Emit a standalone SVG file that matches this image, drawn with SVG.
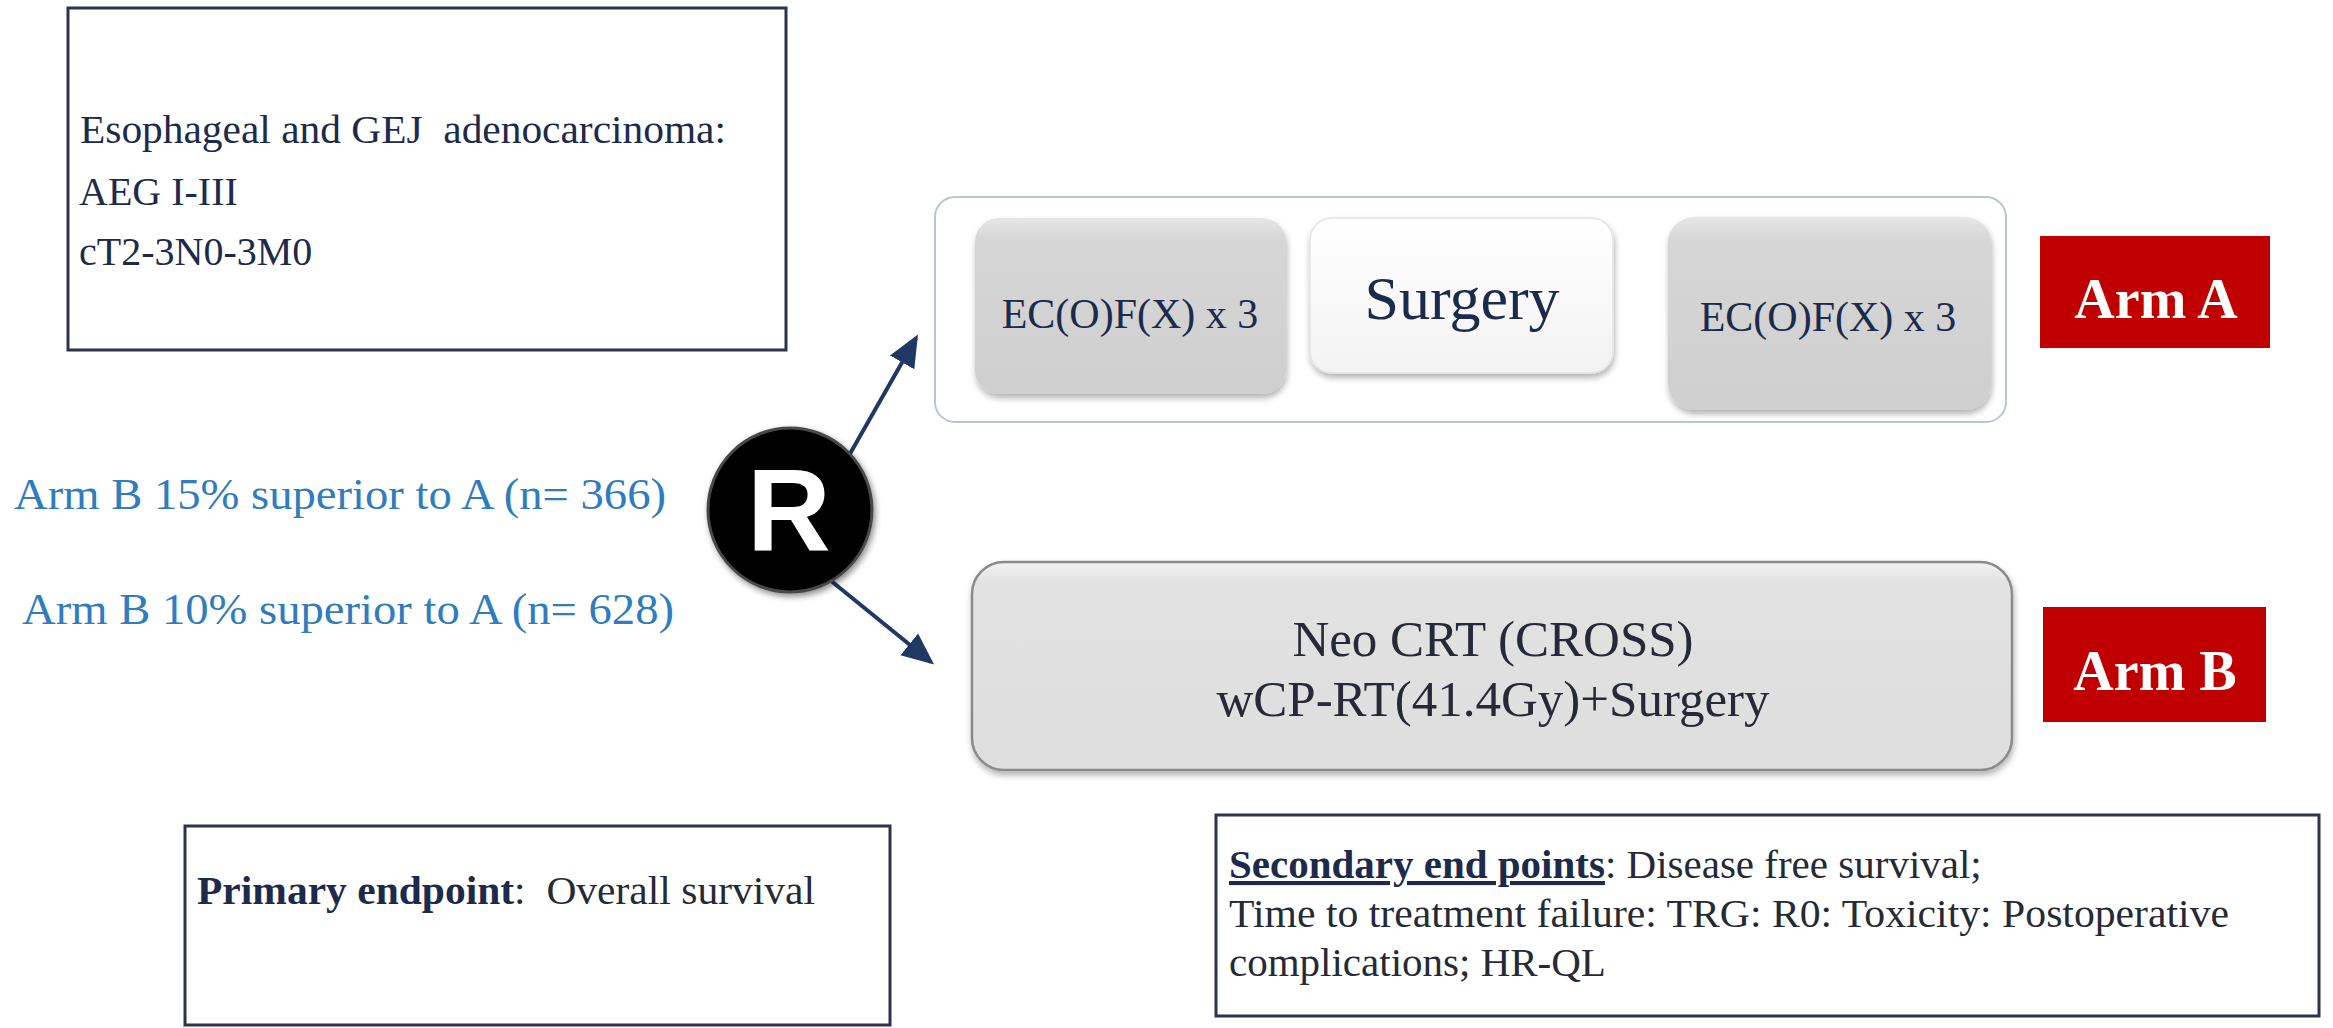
<svg xmlns="http://www.w3.org/2000/svg" width="2333" height="1028" viewBox="0 0 2333 1028">
<defs>
<style>
.serif{font-family:"Liberation Serif","Times New Roman",serif}
.frame{fill:#ffffff;stroke:#2b3350;stroke-width:3}
.navy{fill:#1c2a4c}
.dark{fill:#262a36}
.blue{fill:#2f7cbe;font-size:45px}
.red{fill:#c00000}
.armtxt{fill:#ffffff;font-size:56px;font-weight:bold;text-anchor:middle}
.conn{stroke:#1f3864;stroke-width:4;fill:none;marker-end:url(#ah)}
.pre{white-space:pre}
</style>
<marker id="ah" markerWidth="8" markerHeight="8" refX="7" refY="4" orient="auto" markerUnits="strokeWidth">
<path d="M0,0.5 L8,4 L0,7.5 Z" fill="#1f3864"/>
</marker>
<linearGradient id="gGray" x1="0" y1="0" x2="0" y2="1">
<stop offset="0" stop-color="#e6e6e6"/>
<stop offset="0.12" stop-color="#d6d6d6"/>
<stop offset="1" stop-color="#cfcfcf"/>
</linearGradient>
<linearGradient id="gWhite" x1="0" y1="0" x2="0" y2="1">
<stop offset="0" stop-color="#ffffff"/>
<stop offset="1" stop-color="#f3f3f3"/>
</linearGradient>
<linearGradient id="gB" x1="0" y1="0" x2="0" y2="1">
<stop offset="0" stop-color="#f2f2f2"/>
<stop offset="0.1" stop-color="#e2e2e2"/>
<stop offset="1" stop-color="#dedede"/>
</linearGradient>
<filter id="sh" x="-10%" y="-10%" width="120%" height="130%">
<feDropShadow dx="1" dy="4" stdDeviation="3" flood-color="#000" flood-opacity="0.3"/>
</filter>
<filter id="shc" x="-20%" y="-20%" width="140%" height="140%">
<feDropShadow dx="2" dy="3" stdDeviation="3" flood-color="#000" flood-opacity="0.45"/>
</filter>
</defs>
<rect width="2333" height="1028" fill="#ffffff"/>

<g id="population">
<rect class="frame" x="68" y="8" width="718" height="342"/>
<text class="serif navy pre" x="80" y="143" font-size="40" textLength="646" lengthAdjust="spacingAndGlyphs">Esophageal and GEJ  adenocarcinoma:</text>
<text class="serif navy" x="79" y="205" font-size="40">AEG I-III</text>
<text class="serif navy" x="79" y="265" font-size="40">cT2-3N0-3M0</text>
</g>

<g id="connectors">
<line class="conn" x1="835" y1="480" x2="916" y2="338"/>
<line class="conn" x1="830" y1="580" x2="931" y2="662"/>
</g>

<g id="arm-a-container">
<rect x="935" y="197" width="1071" height="225" rx="20" fill="#ffffff" stroke="#b7c6d6" stroke-width="2"/>
</g>
<g id="ec1">
<rect x="975" y="218" width="311" height="176" rx="24" fill="url(#gGray)" filter="url(#sh)"/>
<text class="serif navy" x="1130" y="328" font-size="42" text-anchor="middle">EC(O)F(X) x 3</text>
</g>
<g id="surgery">
<rect x="1310" y="218" width="303" height="155" rx="22" fill="url(#gWhite)" stroke="#e4e4e4" stroke-width="1.5" filter="url(#sh)"/>
<text class="serif navy" x="1462" y="319" font-size="62" text-anchor="middle">Surgery</text>
</g>
<g id="ec2">
<rect x="1668" y="217" width="323" height="193" rx="26" fill="url(#gGray)" filter="url(#sh)"/>
<text class="serif navy" x="1828" y="331" font-size="42" text-anchor="middle">EC(O)F(X) x 3</text>
</g>
<g id="arm-a-label">
<rect class="red" x="2040" y="236" width="230" height="112"/>
<text class="serif armtxt" x="2156" y="318">Arm A</text>
</g>

<g id="randomization">
<circle cx="790" cy="510" r="82" fill="#000000" stroke="#4a4a4a" stroke-width="3" filter="url(#shc)"/>
<text x="789" y="551" font-family="Liberation Sans, Arial, sans-serif" font-weight="bold" font-size="116" fill="#ffffff" text-anchor="middle">R</text>
</g>

<g id="sample-size">
<text class="serif blue" x="14" y="509" textLength="652" lengthAdjust="spacingAndGlyphs">Arm B 15% superior to A (n= 366)</text>
<text class="serif blue" x="22" y="624" textLength="652" lengthAdjust="spacingAndGlyphs">Arm B 10% superior to A (n= 628)</text>
</g>

<g id="arm-b">
<rect x="972" y="562" width="1040" height="208" rx="32" fill="url(#gB)" stroke="#8a8a8a" stroke-width="2.5" filter="url(#sh)"/>
<text class="serif dark" x="1493" y="656" font-size="51" text-anchor="middle">Neo CRT (CROSS)</text>
<text class="serif dark" x="1493" y="716" font-size="51" text-anchor="middle">wCP-RT(41.4Gy)+Surgery</text>
</g>
<g id="arm-b-label">
<rect class="red" x="2043" y="607" width="223" height="115"/>
<text class="serif armtxt" x="2155" y="690">Arm B</text>
</g>

<g id="primary-endpoint">
<rect class="frame" x="185" y="826" width="705" height="199"/>
<text class="serif pre" x="197" y="904" font-size="41" textLength="618" lengthAdjust="spacingAndGlyphs"><tspan class="navy" font-weight="bold">Primary endpoint</tspan><tspan class="dark">:  Overall survival</tspan></text>
</g>

<g id="secondary-endpoints">
<rect class="frame" x="1216" y="815" width="1103" height="201"/>
<text class="serif" x="1229" y="878" font-size="41"><tspan class="navy" font-weight="bold" text-decoration="underline">Secondary end points</tspan><tspan class="dark">: Disease free survival;</tspan></text>
<text class="serif dark" x="1229" y="927" font-size="41" textLength="1000" lengthAdjust="spacingAndGlyphs">Time to treatment failure: TRG: R0: Toxicity: Postoperative</text>
<text class="serif dark" x="1229" y="976" font-size="41">complications; HR-QL</text>
</g>
</svg>
